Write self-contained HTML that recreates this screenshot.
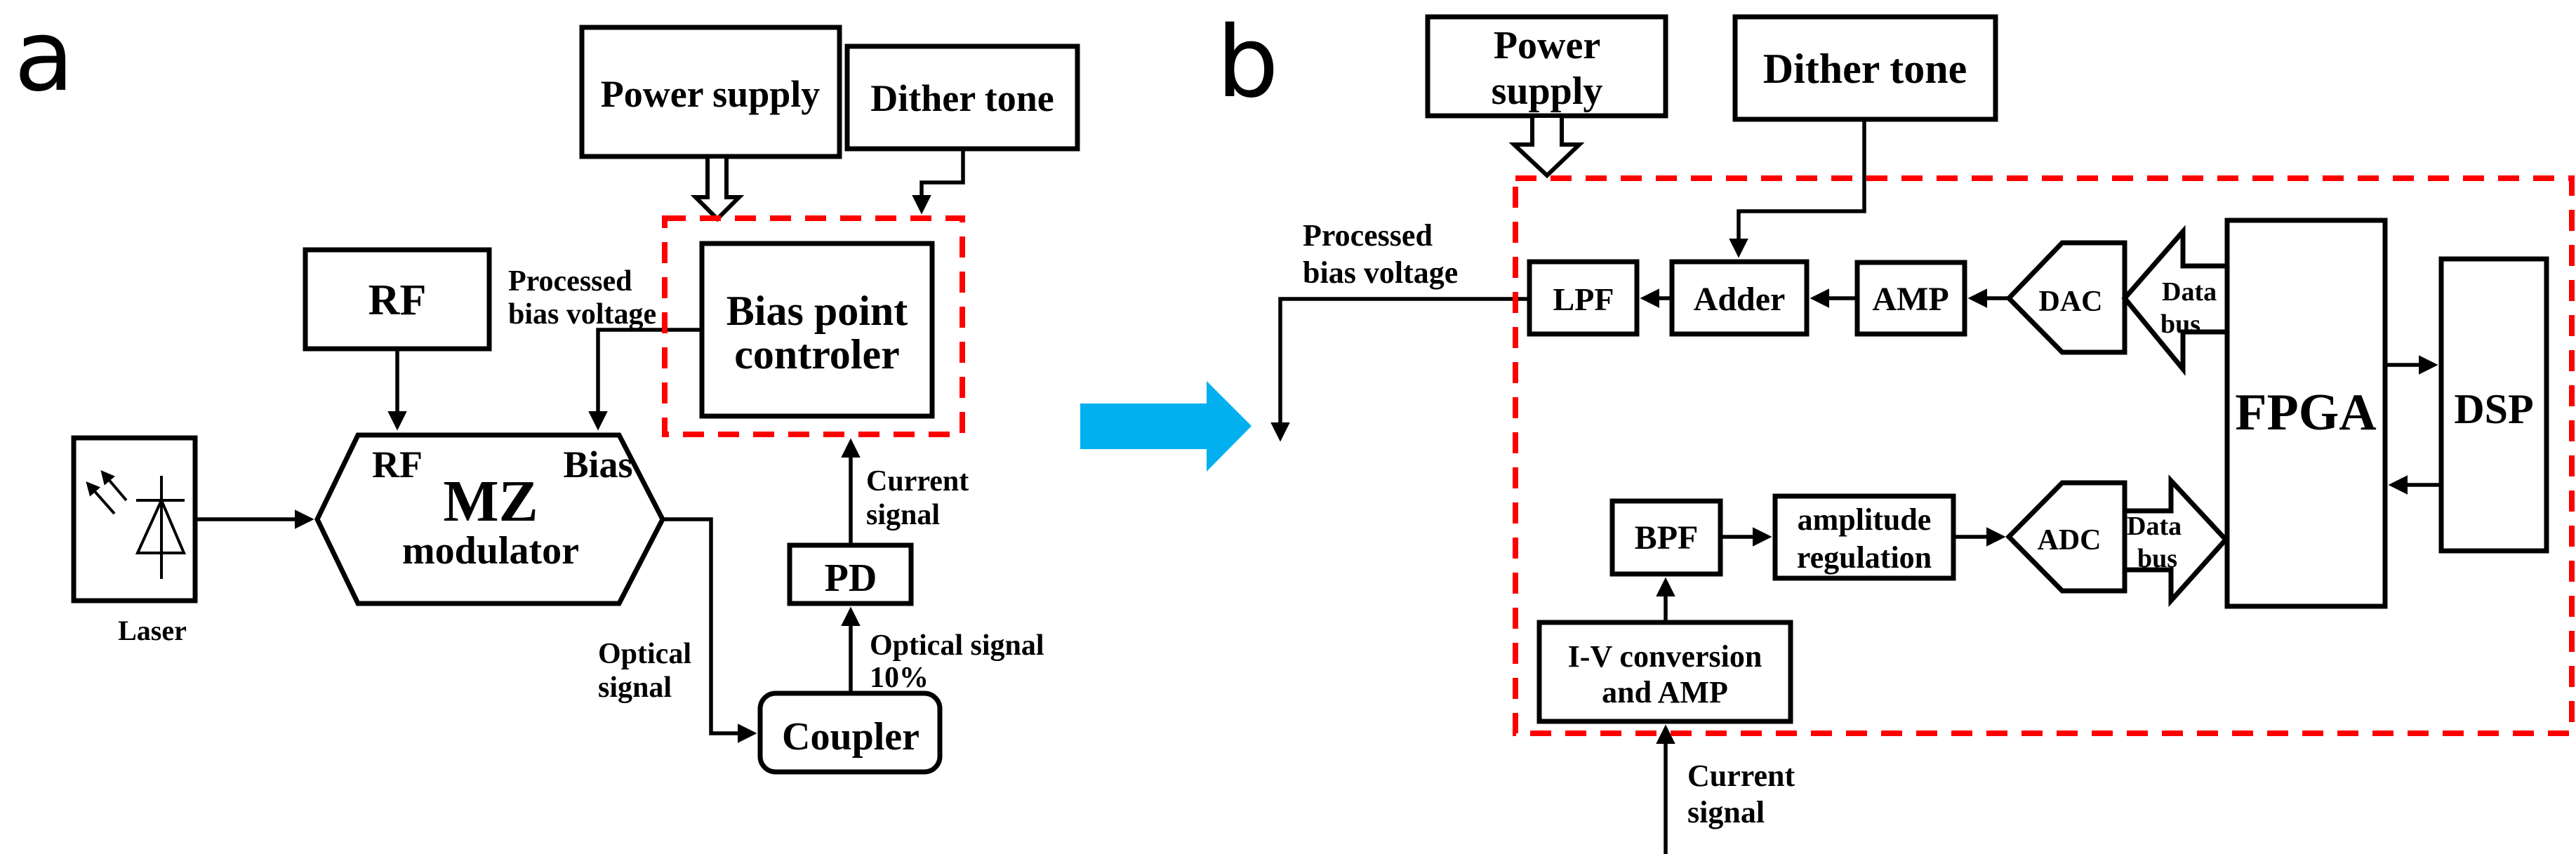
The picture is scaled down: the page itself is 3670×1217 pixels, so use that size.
<!DOCTYPE html>
<html><head><meta charset="utf-8"><style>
html,body{margin:0;padding:0;background:#fff;}
svg{display:block;}
</style></head><body>
<svg width="3670" height="1217" viewBox="0 0 3670 1217" xmlns="http://www.w3.org/2000/svg" font-family="'Liberation Serif', serif" font-weight="bold">
<defs>
<marker id="ah" markerWidth="5" markerHeight="5" refX="4" refY="2.5" orient="auto" markerUnits="strokeWidth">
<path d="M0,0 L5,2.5 L0,5 z" fill="#000"/>
</marker>
</defs>
<!-- ===== Panel a ===== -->
<text x="20" y="128" font-family="'DejaVu Sans', sans-serif" font-weight="normal" font-size="140">a</text>
<g fill="none" stroke="#000" stroke-width="7">
<rect x="829" y="39" width="367" height="184"/>
<rect x="1207" y="66" width="328" height="146"/>
<rect x="1000" y="347" width="328" height="246"/>
<rect x="435" y="356" width="262" height="141"/>
<rect x="105" y="624" width="173" height="232"/>
<polygon points="510,620 882,620 944,740 882,860 510,860 452,740"/>
<rect x="1083" y="988" width="256" height="112" rx="22"/>
<rect x="1125" y="777" width="173" height="83"/>
</g>
<polygon points="1008,223 1035,223 1035,281 1053,281 1022,312 991,281 1008,281" fill="#fff" stroke="#000" stroke-width="6"/>
<g fill="none" stroke="#000" stroke-width="5.5">
<polyline points="1372,212 1372,260 1313,260 1313,300" marker-end="url(#ah)"/>
<line x1="566" y1="497" x2="566" y2="608" marker-end="url(#ah)"/>
<polyline points="1000,470 852,470 852,608" marker-end="url(#ah)"/>
<line x1="278" y1="740" x2="442" y2="740" marker-end="url(#ah)"/>
<polyline points="944,740 1013,740 1013,1045 1073,1045" marker-end="url(#ah)"/>
<line x1="1212" y1="988" x2="1212" y2="870" marker-end="url(#ah)"/>
<line x1="1212" y1="777" x2="1212" y2="630" marker-end="url(#ah)"/>
</g>
<rect x="947" y="311" width="424" height="308" fill="none" stroke="#f00" stroke-width="8" stroke-dasharray="30,20"/>
<g stroke="#000" stroke-width="4" fill="none">
<line x1="230" y1="678" x2="230" y2="825"/>
<line x1="194" y1="713" x2="263" y2="713"/>
<polygon points="230,713 196,788 262,788"/>
<line x1="163" y1="732" x2="125" y2="689" marker-end="url(#ah)"/>
<line x1="180" y1="713" x2="146" y2="673" marker-end="url(#ah)"/>
</g>
<g text-anchor="middle" font-size="54">
<text x="1012" y="152">Power supply</text>
<text x="1371" y="158">Dither tone</text>
<text x="1164" y="463" font-size="60">Bias point</text>
<text x="1164" y="525" font-size="60">controler</text>
<text x="566" y="448" font-size="62">RF</text>
<text x="566" y="680">RF</text>
<text x="852" y="680">Bias</text>
<text x="699" y="742" font-size="84">MZ</text>
<text x="699" y="803" font-size="56">modulator</text>
<text x="1212" y="1068" font-size="56">Coupler</text>
<text x="1212" y="842" font-size="56">PD</text>
<text x="217" y="912" font-size="40">Laser</text>
</g>
<g font-size="42">
<text x="724" y="414">Processed</text>
<text x="724" y="461">bias voltage</text>
<text x="852" y="945">Optical</text>
<text x="852" y="993">signal</text>
<text x="1239" y="933">Optical signal</text>
<text x="1239" y="979">10%</text>
<text x="1234" y="699">Current</text>
<text x="1234" y="747">signal</text>
</g>
<polygon points="1539,575 1719,575 1719,543 1783,607 1719,672 1719,640 1539,640" fill="#03b0ef"/>
<!-- ===== Panel b ===== -->
<text x="1733" y="137" font-family="'DejaVu Sans', sans-serif" font-weight="normal" font-size="140">b</text>
<g fill="none" stroke="#000" stroke-width="7">
<rect x="2034" y="24" width="339" height="141"/>
<rect x="2472" y="24" width="371" height="146"/>
<rect x="2179" y="373" width="153" height="103"/>
<rect x="2382" y="373" width="192" height="103"/>
<rect x="2646" y="374" width="153" height="102"/>
<polygon points="2862,425 2938,346 3027,346 3027,502 2938,502"/>
<rect x="3173" y="314" width="225" height="550"/>
<rect x="3478" y="369" width="150" height="416"/>
<rect x="2297" y="714" width="154" height="104"/>
<rect x="2529" y="707" width="254" height="117"/>
<polygon points="2862,765 2938,688 3027,688 3027,842 2938,842"/>
<rect x="2193" y="887" width="358" height="141"/>
</g>
<polygon points="3173,379 3110,379 3110,330 3027,425 3110,526 3110,473 3173,473" fill="none" stroke="#000" stroke-width="7"/>
<polygon points="3027,728 3093,728 3093,685 3171,769 3093,856 3093,812 3027,812" fill="none" stroke="#000" stroke-width="7"/>
<polygon points="2183,165 2225,165 2225,206 2250,206 2204,250 2157,206 2183,206" fill="#fff" stroke="#000" stroke-width="6"/>
<g fill="none" stroke="#000" stroke-width="5.5">
<polyline points="2656,170 2656,301 2477,301 2477,362" marker-end="url(#ah)"/>
<line x1="2382" y1="425" x2="2342" y2="425" marker-end="url(#ah)"/>
<line x1="2646" y1="425" x2="2584" y2="425" marker-end="url(#ah)"/>
<line x1="2862" y1="425" x2="2809" y2="425" marker-end="url(#ah)"/>
<line x1="3398" y1="520" x2="3468" y2="520" marker-end="url(#ah)"/>
<line x1="3478" y1="691" x2="3408" y2="691" marker-end="url(#ah)"/>
<line x1="2451" y1="765" x2="2519" y2="765" marker-end="url(#ah)"/>
<line x1="2783" y1="765" x2="2852" y2="765" marker-end="url(#ah)"/>
<line x1="2373" y1="887" x2="2373" y2="828" marker-end="url(#ah)"/>
<line x1="2373" y1="1217" x2="2373" y2="1038" marker-end="url(#ah)"/>
<polyline points="2179,426 1824,426 1824,624" marker-end="url(#ah)"/>
</g>
<rect x="2159" y="254" width="1505" height="791" fill="none" stroke="#f00" stroke-width="8" stroke-dasharray="30,20"/>
<g text-anchor="middle" font-size="56">
<text x="2204" y="83">Power</text>
<text x="2204" y="148">supply</text>
<text x="2657" y="118" font-size="60">Dither tone</text>
<text x="2256" y="442" font-size="46">LPF</text>
<text x="2478" y="442" font-size="48">Adder</text>
<text x="2722" y="442" font-size="48">AMP</text>
<text x="2950" y="443" font-size="42">DAC</text>
<text x="3285" y="612" font-size="74">FPGA</text>
<text x="3553" y="603" font-size="60">DSP</text>
<text x="2374" y="782" font-size="48">BPF</text>
<text x="2656" y="755" font-size="44">amplitude</text>
<text x="2656" y="809" font-size="44">regulation</text>
<text x="2948" y="783" font-size="42">ADC</text>
<text x="2372" y="950" font-size="44">I-V conversion</text>
<text x="2372" y="1001" font-size="44">and AMP</text>
</g>
<g font-size="38">
<text x="3080" y="428">Data</text>
<text x="3078" y="474">bus</text>
<text x="3030" y="762">Data</text>
<text x="3045" y="808">bus</text>
</g>
<g font-size="44">
<text x="1856" y="350">Processed</text>
<text x="1856" y="403">bias voltage</text>
<text x="2404" y="1120">Current</text>
<text x="2404" y="1172">signal</text>
</g>
</svg>
</body></html>
